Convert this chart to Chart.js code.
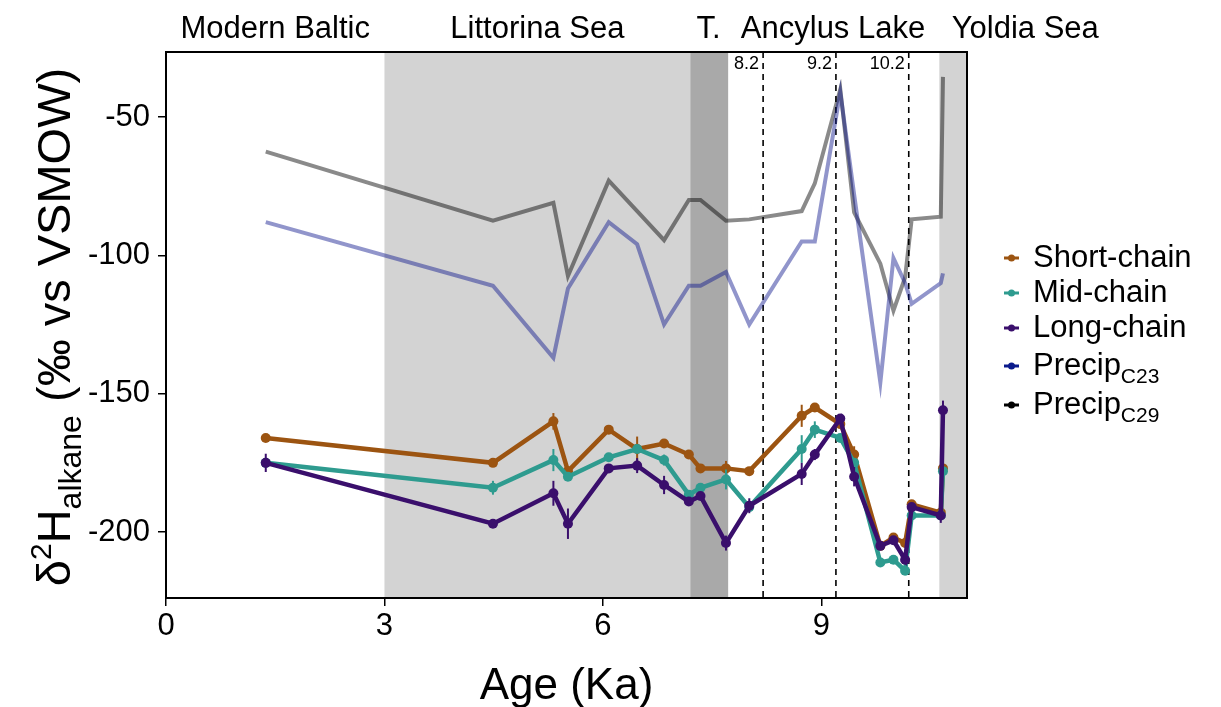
<!DOCTYPE html>
<html>
<head>
<meta charset="utf-8">
<script src="https://cdn.jsdelivr.net/npm/chart.js@4.4.1/dist/chart.umd.min.js"></script>
<style>
  body { margin: 0; background: #fff; }
  #wrap { width: 1221px; height: 707px; }
</style>
</head>
<body>
<div id="wrap"><canvas id="myChart"></canvas></div>
<script>
// Sample ages (Ka) shared by every series
const ages = [1.37, 4.49, 5.32, 5.52, 6.08, 6.47, 6.84, 7.18, 7.34, 7.69, 8.01,
              8.73, 8.91, 9.26, 9.45, 9.81, 9.99, 10.15, 10.24, 10.64, 10.67];

// d2H alkane values (permil vs VSMOW)
const shortChain = [-166, -175, -160, -178, -163, -170, -168, -172, -177, -177, -178,
                    -158, -155, -161, -172, -205, -202, -204, -190, -193, -177];
const midChain   = [-175, -184, -174, -180, -173, -170, -174, -186.5, -184, -181, -191,
                    -170, -163, -166, -175, -211, -210, -214, -194, -194, -178];
const longChain  = [-175, -197, -186, -197, -177, -176, -183, -189, -187, -204, -190.5,
                    -179, -172, -159, -180, -205, -203, -210, -191, -194, -156];
const precipC23  = [-88, -111, -137, -112, -88, -96, -125, -111, -111, -106, -125,
                    -95, -95, -41, -78, -146, -101, -110, -117.5, -110, -106.5];
const precipC29  = [-62.5, -87.5, -81, -107.5, -73, -84, -94.5, -80, -80, -87.5, -87,
                    -84, -74, -40, -84.5, -103, -120, -108, -87, -86, -35.5];

// error bar half widths (0 = none drawn)
const shortErr = [0, 0, 3, 0, 0, 4.5, 0, 0, 0, 2.7, 0, 4, 0, 0, 3, 0, 0, 0, 0, 0, 3.6];
const midErr   = [0, 2.5, 4, 0, 0, 0, 2, 0, 0, 3.6, 0, 5, 3, 0, 0, 0, 0, 0, 0, 0, 0];
const longErr  = [3.3, 0, 4.5, 5.5, 0, 2.7, 3.3, 0, 0, 2.7, 2.7, 4, 2, 0, 3.5, 0, 0, 0, 0, 2.7, 3.5];

// shaded basin stages and dated events
const bandStart = [3, 7.2, 10.62];
const bandEnd   = [7.2, 7.72, 11];
const eraLabels = ['Modern Baltic', 'Littorina Sea', 'T.', 'Ancylus Lake', 'Yoldia Sea'];
const eraLabelAt = [1.5, 5.1, 7.45, 9.16, 11.8];
const eventAges = [8.2, 9.2, 10.2];
const eventLabels = ['8.2', '9.2', '10.2'];

const xTicks = [0, 3, 6, 9];
const yTicks = [-200, -150, -100, -50];

const legendNames = ['Short-chain', 'Mid-chain', 'Long-chain', 'Precip', 'Precip'];
const legendSubs  = ['', '', '', 'C23', 'C29'];
const legendColors = ['#9c5411', '#2e9b8f', '#3a0f6c', '#0a1a8c', '#000000'];

const FONT = '"Liberation Sans", Arial, sans-serif';

function series(vals) {
    return ages.map((a, i) => ({ x: a, y: vals[i] }));
}

const overlay = {
    id: 'overlay',
    beforeDatasetsDraw(chart) {
        const { ctx, chartArea: a, scales: { x } } = chart;
        const shades = ['#d3d3d3', '#a9a9a9', '#d3d3d3'];
        ctx.save();
        for (let i = 0; i < bandStart.length; i++) {
            const x0 = Math.max(x.getPixelForValue(bandStart[i]), a.left);
            const x1 = Math.min(x.getPixelForValue(bandEnd[i]), a.right);
            ctx.fillStyle = shades[i];
            ctx.fillRect(x0, a.top, x1 - x0, a.bottom - a.top);
        }
        // dashed event lines
        ctx.strokeStyle = '#000';
        ctx.lineWidth = 1.6;
        ctx.setLineDash([6, 5]);
        ctx.font = '18px ' + FONT;
        ctx.fillStyle = '#000';
        ctx.textAlign = 'right';
        ctx.textBaseline = 'middle';
        eventAges.forEach((v, i) => {
            const px = x.getPixelForValue(v);
            ctx.beginPath();
            ctx.moveTo(px, a.top);
            ctx.lineTo(px, a.bottom);
            ctx.stroke();
            ctx.fillText(eventLabels[i], px - 4, a.top + 12);
        });
        ctx.restore();
    },
    afterDatasetDraw(chart, args) {
        const ds = chart.data.datasets[args.index];
        if (!ds.errors) return;
        const { ctx, scales: { x, y } } = chart;
        ctx.save();
        ctx.strokeStyle = ds.borderColor;
        ctx.lineWidth = 2;
        ds.data.forEach((p, i) => {
            const e = ds.errors[i];
            if (!e) return;
            const px = x.getPixelForValue(p.x);
            ctx.beginPath();
            ctx.moveTo(px, y.getPixelForValue(p.y - e));
            ctx.lineTo(px, y.getPixelForValue(p.y + e));
            ctx.stroke();
        });
        ctx.restore();
    },
    afterDatasetsDraw(chart) {
        const { ctx, chartArea: a, scales: { x } } = chart;
        ctx.save();
        // panel frame
        ctx.strokeStyle = '#000';
        ctx.lineWidth = 2;
        ctx.strokeRect(a.left, a.top, a.right - a.left, a.bottom - a.top);

        // stage names above the panel
        ctx.fillStyle = '#000';
        ctx.font = '31px ' + FONT;
        ctx.textAlign = 'center';
        ctx.textBaseline = 'middle';
        eraLabels.forEach((t, i) => ctx.fillText(t, x.getPixelForValue(eraLabelAt[i]), 29));

        // x title
        ctx.font = '44px ' + FONT;
        ctx.textBaseline = 'alphabetic';
        ctx.fillText('Age (Ka)', (a.left + a.right) / 2, 699);

        // y title with super/subscripts
        const parts = [
            { t: '\u03b4', f: 47, dy: 0 },
            { t: '2', f: 30, dy: -19 },
            { t: 'H', f: 47, dy: 0 },
            { t: 'alkane', f: 32, dy: 11 },
            { t: ' (\u2030 vs VSMOW)', f: 47, dy: 0 }
        ];
        let total = 0;
        parts.forEach(p => { ctx.font = p.f + 'px ' + FONT; p.w = ctx.measureText(p.t).width; total += p.w; });
        ctx.translate(70, (a.top + a.bottom) / 2 + 2);
        ctx.rotate(-Math.PI / 2);
        ctx.textAlign = 'left';
        let cx = -total / 2;
        parts.forEach(p => {
            ctx.font = p.f + 'px ' + FONT;
            ctx.fillText(p.t, cx, p.dy);
            cx += p.w;
        });
        ctx.restore();

        // legend
        ctx.save();
        const rows = [258, 293, 328, 366, 405];
        legendNames.forEach((name, i) => {
            const yy = rows[i];
            ctx.strokeStyle = legendColors[i];
            ctx.fillStyle = legendColors[i];
            ctx.lineWidth = 3;
            ctx.beginPath();
            ctx.moveTo(1004, yy);
            ctx.lineTo(1019, yy);
            ctx.stroke();
            ctx.beginPath();
            ctx.arc(1011.5, yy, 3.5, 0, Math.PI * 2);
            ctx.fill();
            ctx.fillStyle = '#000';
            ctx.font = '31px ' + FONT;
            ctx.textAlign = 'left';
            ctx.textBaseline = 'middle';
            ctx.fillText(name, 1033, yy);
            if (legendSubs[i]) {
                const w = ctx.measureText(name).width;
                ctx.font = '21px ' + FONT;
                ctx.fillText(legendSubs[i], 1033 + w, yy + 11);
            }
        });
        ctx.restore();
    }
};

let ctx = document.getElementById('myChart').getContext('2d');
let myChart = new Chart(ctx, {
    type: 'line',
    data: {
        datasets: [
            {
                label: 'Precip C29',
                data: series(precipC29),
                borderColor: 'rgba(0, 0, 0, 0.46)',
                borderWidth: 4,
                pointRadius: 0,
                order: 5
            },
            {
                label: 'Precip C23',
                data: series(precipC23),
                borderColor: 'rgba(10, 20, 140, 0.45)',
                borderWidth: 4,
                pointRadius: 0,
                order: 4
            },
            {
                label: 'Short-chain',
                data: series(shortChain),
                errors: shortErr,
                borderColor: legendColors[0],
                backgroundColor: legendColors[0],
                borderWidth: 4.5,
                pointRadius: 5,
                pointBorderWidth: 0,
                order: 3
            },
            {
                label: 'Mid-chain',
                data: series(midChain),
                errors: midErr,
                borderColor: legendColors[1],
                backgroundColor: legendColors[1],
                borderWidth: 4.5,
                pointRadius: 5,
                pointBorderWidth: 0,
                order: 2
            },
            {
                label: 'Long-chain',
                data: series(longChain),
                errors: longErr,
                borderColor: legendColors[2],
                backgroundColor: legendColors[2],
                borderWidth: 4.5,
                pointRadius: 5,
                pointBorderWidth: 0,
                order: 1
            }
        ]
    },
    options: {
        responsive: true,
        maintainAspectRatio: false,
        animation: false,
        layout: {
            padding: { top: 52, right: 254, left: 0, bottom: 0 }
        },
        plugins: {
            legend: { display: false },
            tooltip: { enabled: false }
        },
        scales: {
            x: {
                type: 'linear',
                min: 0,
                max: 11,
                afterBuildTicks: scale => { scale.ticks = xTicks.map(v => ({ value: v })); },
                afterFit: scale => { scale.height = 109; },
                ticks: {
                    color: '#000',
                    font: { family: FONT, size: 31 },
                    padding: 2,
                    maxRotation: 0
                },
                grid: {
                    drawOnChartArea: false,
                    drawTicks: true,
                    tickLength: 8,
                    color: '#000',
                    lineWidth: 1.5
                },
                border: { display: true, color: '#000', width: 2 }
            },
            y: {
                type: 'linear',
                min: -223.85,
                max: -26.5,
                afterBuildTicks: scale => { scale.ticks = yTicks.map(v => ({ value: v })); },
                afterFit: scale => { scale.width = 166; },
                ticks: {
                    color: '#000',
                    font: { family: FONT, size: 31 },
                    padding: 8
                },
                grid: {
                    drawOnChartArea: false,
                    drawTicks: true,
                    tickLength: 8,
                    color: '#000',
                    lineWidth: 1.5
                },
                border: { display: true, color: '#000', width: 2 }
            }
        },
        elements: {
            line: { tension: 0 }
        }
    },
    plugins: [overlay]
});
</script>
</body>
</html>
